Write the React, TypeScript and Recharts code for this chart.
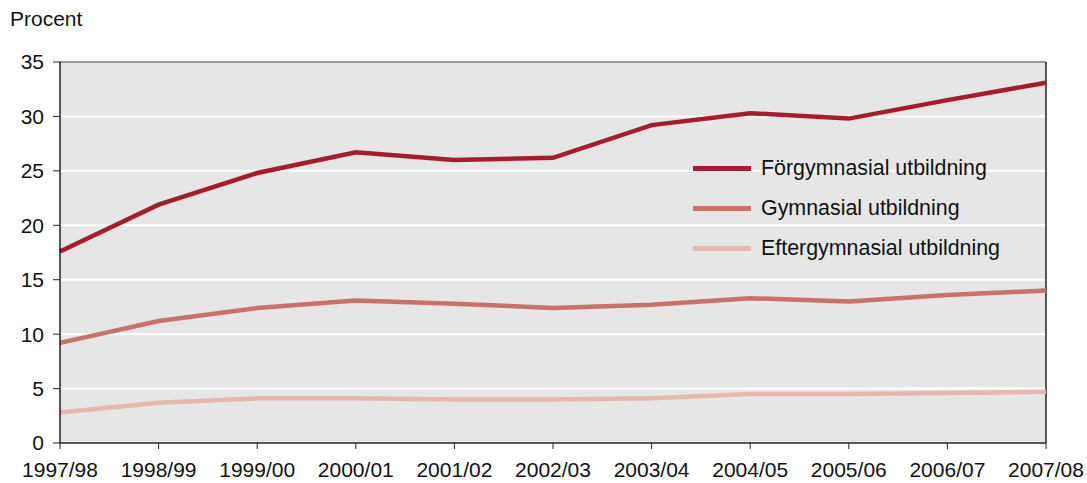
import {
  LineChart,
  Line,
  XAxis,
  YAxis,
  CartesianGrid,
  ReferenceLine,
} from "recharts";

const years = [
  "1997/98",
  "1998/99",
  "1999/00",
  "2000/01",
  "2001/02",
  "2002/03",
  "2003/04",
  "2004/05",
  "2005/06",
  "2006/07",
  "2007/08",
];

const forgymnasial = [17.6, 21.9, 24.8, 26.7, 26.0, 26.2, 29.2, 30.3, 29.8, 31.5, 33.1];
const gymnasial = [9.2, 11.2, 12.4, 13.1, 12.8, 12.4, 12.7, 13.3, 13.0, 13.6, 14.0];
const eftergymnasial = [2.8, 3.7, 4.1, 4.1, 4.0, 4.0, 4.1, 4.5, 4.5, 4.6, 4.7];

const yTicks = [0, 5, 10, 15, 20, 25, 30, 35];

const seriesNames = [
  "Förgymnasial utbildning",
  "Gymnasial utbildning",
  "Eftergymnasial utbildning",
];
const seriesColors = ["#a51c30", "#c8716a", "#e5b7ae"];

const data = years.map((year, i) => ({
  year,
  forgymnasial: forgymnasial[i],
  gymnasial: gymnasial[i],
  eftergymnasial: eftergymnasial[i],
}));

const FONT = "'Liberation Sans', Arial, sans-serif";

// legend drawn as an overlay so it doesn't eat into the plot height
const LegendBox = () => (
  <div
    style={{
      position: "absolute",
      left: 693,
      top: 148,
      fontFamily: FONT,
      fontSize: 21.4,
      color: "#111",
    }}
  >
    {seriesNames.map((name, i) => (
      <div
        key={name}
        style={{ display: "flex", alignItems: "center", height: 40 }}
      >
        <span
          style={{
            display: "inline-block",
            width: 58,
            height: 5,
            background: seriesColors[i],
            marginRight: 10,
          }}
        />
        <span>{name}</span>
      </div>
    ))}
  </div>
);

export default function App() {
  return (
    <div
      style={{
        position: "absolute",
        left: 0,
        top: 0,
        width: 1087,
        height: 483,
        background: "#fff",
      }}
    >
      <div
        style={{
          position: "absolute",
          left: 10,
          top: 7,
          fontFamily: FONT,
          fontSize: 21,
          color: "#111",
        }}
      >
        Procent
      </div>
      <LineChart
        width={1087}
        height={483}
        data={data}
        margin={{ top: 62, right: 41, bottom: 0, left: 0 }}
        style={{ fontFamily: FONT }}
      >
        <CartesianGrid
          vertical={false}
          stroke="#ffffff"
          strokeWidth={2}
          fill="#e6e6e6"
          fillOpacity={1}
        />
        <XAxis
          dataKey="year"
          height={40}
          axisLine={{ stroke: "#222", strokeWidth: 1.5 }}
          tickLine={{ stroke: "#222" }}
          tickSize={6}
          tickMargin={13}
          interval={0}
          tick={{ fontSize: 21, fill: "#111" }}
        />
        <YAxis
          domain={[0, 35]}
          ticks={yTicks}
          width={60}
          axisLine={{ stroke: "#222", strokeWidth: 1.5 }}
          tickLine={{ stroke: "#222" }}
          tickSize={7}
          tickMargin={9}
          tick={{ fontSize: 21, fill: "#111" }}
        />
        <ReferenceLine y={35} stroke="#777" strokeWidth={1.5} />
        <ReferenceLine x="2007/08" stroke="#222" strokeWidth={1.5} />
        <Line
          type="linear"
          dataKey="forgymnasial"
          name={seriesNames[0]}
          stroke={seriesColors[0]}
          strokeWidth={4.5}
          dot={false}
          isAnimationActive={false}
        />
        <Line
          type="linear"
          dataKey="gymnasial"
          name={seriesNames[1]}
          stroke={seriesColors[1]}
          strokeWidth={4.5}
          dot={false}
          isAnimationActive={false}
        />
        <Line
          type="linear"
          dataKey="eftergymnasial"
          name={seriesNames[2]}
          stroke={seriesColors[2]}
          strokeWidth={4.5}
          dot={false}
          isAnimationActive={false}
        />
      </LineChart>
      <LegendBox />
    </div>
  );
}
